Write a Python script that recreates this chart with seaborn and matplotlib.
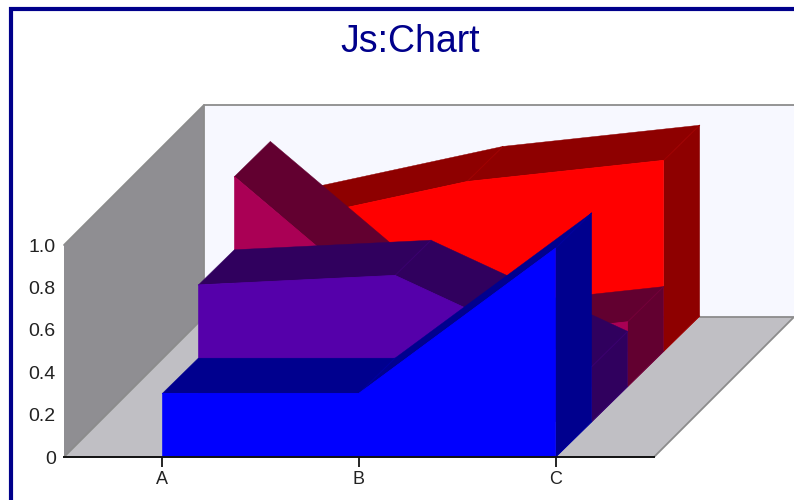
# -*- coding: utf-8 -*-
"""Js:Chart - oblique 3D area chart"""
import pandas as pd
import seaborn as sns
import matplotlib
matplotlib.use("Agg")
import matplotlib.pyplot as plt
from matplotlib.patches import Rectangle

# data, back series first
categories = ["A", "B", "C"]
series_red = [0.60, 0.80, 0.90]
series_crimson = [0.99, 0.205, 0.305]
series_purple = [0.645, 0.69, 0.26]
series_blue = [0.30, 0.30, 0.985]
y_ticks = [0, 0.2, 0.4, 0.6, 0.8, 1.0]
y_tick_labels = ["0", "0.2", "0.4", "0.6", "0.8", "1.0"]

front_colors = ["#FF0000", "#AA0055", "#5500AA", "#0000FF"]
top_colors = ["#8E0000", "#620030", "#30005E", "#00008E"]
edge_colors = ["#A00000", "#72003A", "#3A0070", "#0000A0"]

W, H = 794, 500
X0, X1, Y0, Y1 = 64, 654, 457, 245  # plot box, pixels
PX = 3 / (X1 - X0)  # category units per pixel
PY = 1 / (Y0 - Y1)  # value units per pixel
LAYER_DX, LAYER_DY = 36 * PX, 35.25 * PY
WALL_DX, WALL_DY = 140 * PX, 140 * PY

sns.set_theme(style="white")
plt.rcParams['font.family'] = ['Liberation Sans', 'DejaVu Sans']

fig = plt.figure(figsize=(W / 100, H / 100), dpi=100, facecolor="white")
ax = fig.add_axes([X0 / W, 1 - Y0 / H, (X1 - X0) / W, (Y0 - Y1) / H])
ax.set_xlim(-0.5, 2.5)
ax.set_ylim(0, 1)
ax.patch.set_visible(False)

# walls
xl, xr = -0.5, 2.5
gray = "#8C8C8C"
ax.fill([xl + WALL_DX, xr + WALL_DX, xr + WALL_DX, xl + WALL_DX],
        [WALL_DY, WALL_DY, 1 + WALL_DY, 1 + WALL_DY],
        color="#F7F8FF", lw=0, clip_on=False, zorder=1)
ax.fill([xl, xr, xr + WALL_DX, xl + WALL_DX], [0, 0, WALL_DY, WALL_DY],
        color="#C0BFC4", lw=0, clip_on=False, zorder=1)
ax.fill([xl, xl + WALL_DX, xl + WALL_DX, xl], [0, WALL_DY, 1 + WALL_DY, 1],
        color="#8F8E92", lw=0, clip_on=False, zorder=1)
ax.plot([xl, xl + WALL_DX, xr + WALL_DX], [1, 1 + WALL_DY, 1 + WALL_DY],
        color=gray, lw=1.3, clip_on=False, zorder=2)
ax.plot([xl + WALL_DX, xl + WALL_DX], [WALL_DY, 1 + WALL_DY], color=gray, lw=1.3,
        clip_on=False, zorder=2)
ax.plot([xl, xl + WALL_DX, xr + WALL_DX, xr], [0, WALL_DY, WALL_DY, 0], color=gray, lw=1.3,
        clip_on=False, zorder=2)

all_series = [series_red, series_crimson, series_purple, series_blue]
z = 3
for i, values in enumerate(all_series):
    layer = len(all_series) - 1 - i
    dx, dy = layer * LAYER_DX, layer * LAYER_DY
    xs = [j + dx for j in range(len(categories))]
    ys = [v + dy for v in values]
    # top facets
    for j in range(len(xs) - 1):
        ax.fill([xs[j], xs[j + 1], xs[j + 1] + LAYER_DX, xs[j] + LAYER_DX],
                [ys[j], ys[j + 1], ys[j + 1] + LAYER_DY, ys[j] + LAYER_DY],
                color=top_colors[i], lw=0.3, clip_on=False, zorder=z)
    # right end
    ax.fill([xs[-1], xs[-1] + LAYER_DX, xs[-1] + LAYER_DX, xs[-1]],
            [ys[-1], ys[-1] + LAYER_DY, dy + LAYER_DY, dy],
            color=top_colors[i], lw=0.3, clip_on=False, zorder=z)
    # facet seams
    for j in range(1, len(xs)):
        ax.plot([xs[j], xs[j] + LAYER_DX], [ys[j], ys[j] + LAYER_DY],
                color=edge_colors[i], lw=0.7, clip_on=False, zorder=z)
    ax.plot([xs[-1], xs[-1] + LAYER_DX], [dy, dy + LAYER_DY],
            color=edge_colors[i], lw=0.7, clip_on=False, zorder=z)
    # front face
    ax.fill(xs + [xs[-1], xs[0]], ys + [dy, dy], color=front_colors[i], lw=0.3,
            clip_on=False, zorder=z + 0.1)
    df = pd.DataFrame({"x": xs, "y": ys})
    sns.lineplot(data=df, x="x", y="y", ax=ax, color=front_colors[i], lw=0.6,
                 sort=False, errorbar=None, clip_on=False, zorder=z + 0.2)
    z += 1

# axes
ax.set_xlabel("")
ax.set_ylabel("")
ax.set_xticks(range(len(categories)))
ax.set_xticklabels(categories, fontsize=13, color="#222222")
ax.set_yticks(y_ticks)
ax.set_yticklabels(y_tick_labels, fontsize=14, color="#222222")
ax.tick_params(axis="x", length=7, width=1.2, color="black", pad=3, bottom=True)
ax.tick_params(axis="y", length=0, pad=6, left=False)
for side in ["top", "right", "left"]:
    ax.spines[side].set_visible(False)
ax.spines["bottom"].set_color("#111111")
ax.spines["bottom"].set_linewidth(1.4)
ax.spines["bottom"].set_zorder(20)

# frame and title
fig.add_artist(Rectangle((11 / W, -0.1), 1.2, 1.1 - 9 / H, transform=fig.transFigure,
                         fill=False, edgecolor="#00008B", lw=3))
fig.text(410 / W, 1 - 52 / H, "Js:Chart", color="#00008B", fontsize=27, ha="center", va="baseline")

fig.savefig("out.png", dpi=100, facecolor="white")
plt.close(fig)
